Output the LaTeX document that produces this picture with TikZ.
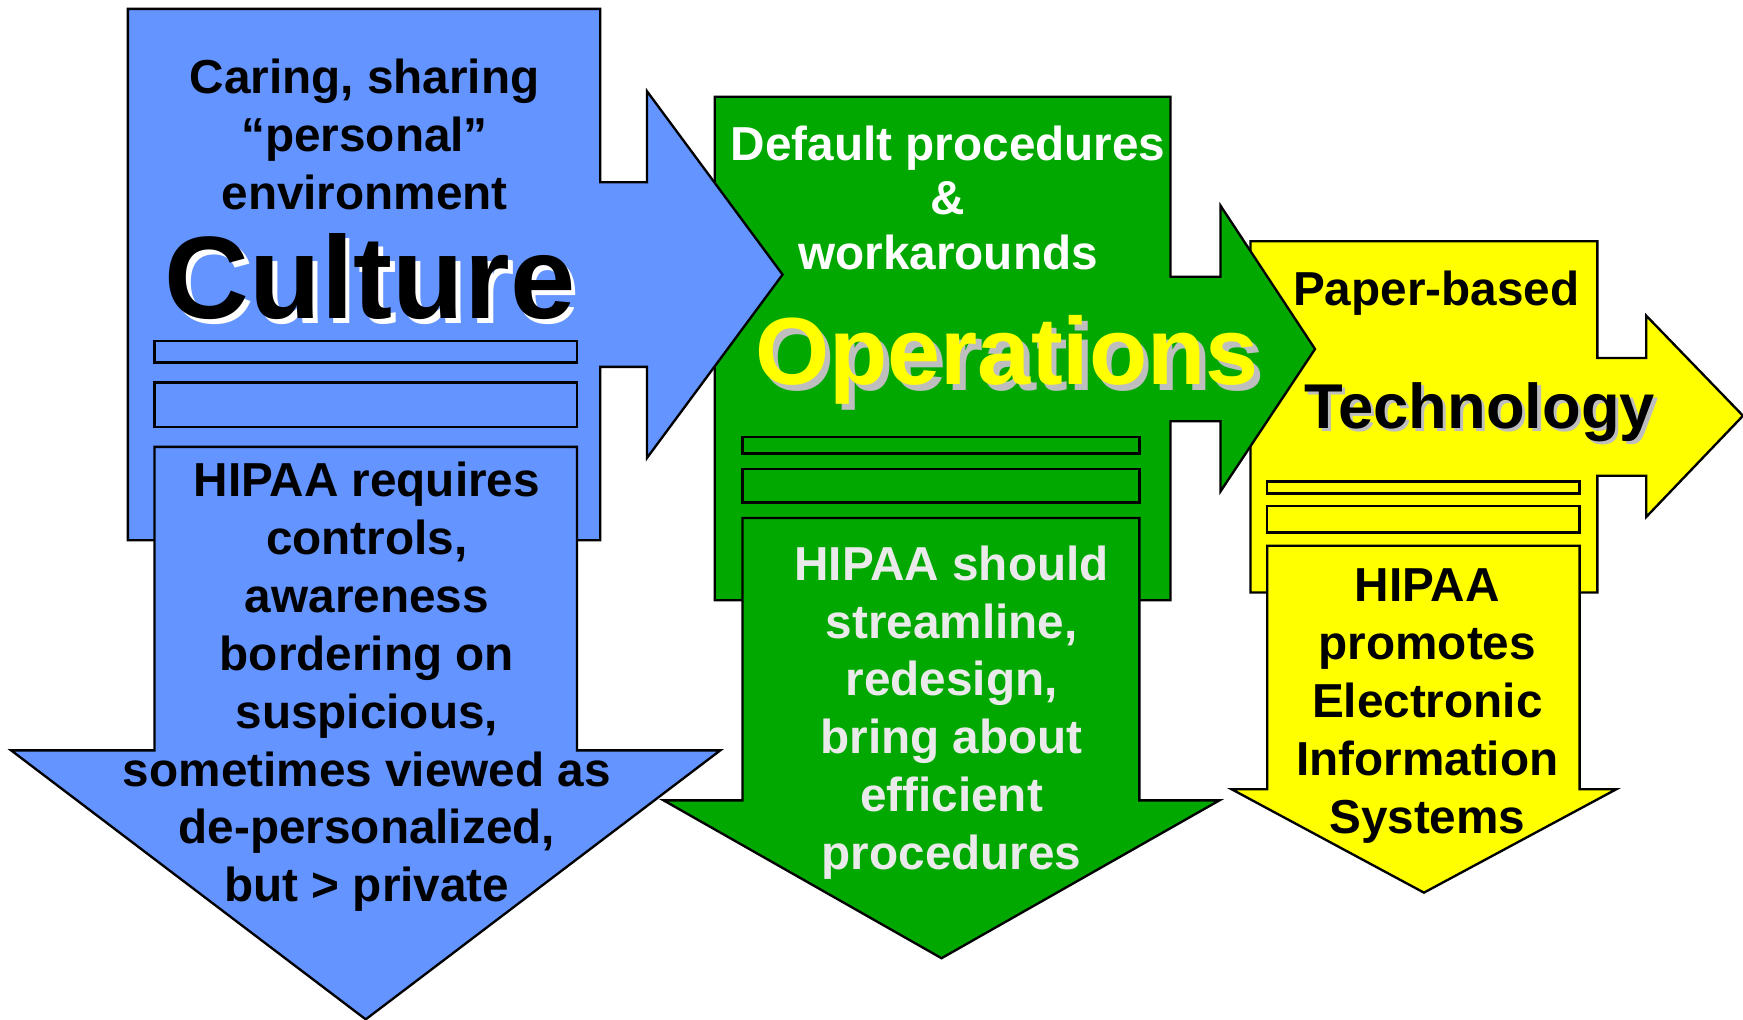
\documentclass[tikz,border=0pt]{standalone}
\usepackage{fontspec}
\setmainfont{Liberation Sans}
\definecolor{cultureblue}{RGB}{99,148,255}
\definecolor{opsgreen}{RGB}{0,168,0}
\definecolor{techyellow}{RGB}{255,255,0}
\definecolor{shadowgray}{RGB}{190,190,190}
\definecolor{paletext}{RGB}{234,234,234}
\tikzstyle{arrowbox} = [draw=black, line width=0.6pt, line join=miter]
\tikzstyle{body} = [align=center, inner sep=0pt, font=\bfseries\fontsize{12.2}{14.8}\selectfont]
\tikzstyle{bodytight} = [align=center, inner sep=0pt, font=\bfseries\fontsize{12.2}{13.9}\selectfont]
\tikzstyle{culturetitle} = [inner sep=0pt, font=\bfseries\fontsize{30}{36}\selectfont]
\tikzstyle{opstitle} = [inner sep=0pt, font=\bfseries\fontsize{24.4}{29}\selectfont]
\tikzstyle{techtitle} = [inner sep=0pt, font=\bfseries\fontsize{16.2}{19}\selectfont]

\begin{document}
\begin{tikzpicture}[x=0.01cm, y=-0.01cm]
\useasboundingbox (0,0) rectangle (1568,917);

\draw [arrowbox, fill=techyellow] (1125,217) -- (1437,217) -- (1437,322) -- (1481,322) -- (1481,284) -- (1568,374) -- (1481,465) -- (1481,428) -- (1437,428) -- (1437,533) -- (1125,533) -- cycle;
\draw [arrowbox, fill=techyellow] (1140,433) rectangle (1421,444);
\draw [arrowbox, fill=techyellow] (1140,455) rectangle (1421,479);
\draw [arrowbox, fill=techyellow] (1140,491) -- (1421,491) -- (1421,710) -- (1454,710) -- (1281,803) -- (1108,710) -- (1140,710) -- cycle;

\draw [arrowbox, fill=opsgreen] (643,87) -- (1053,87) -- (1053,249) -- (1098,249) -- (1098,185) -- (1183,314) -- (1098,442) -- (1098,379) -- (1053,379) -- (1053,540) -- (643,540) -- cycle;
\draw [arrowbox, fill=opsgreen] (668,393) rectangle (1025,408);
\draw [arrowbox, fill=opsgreen] (668,422) rectangle (1025,452);
\draw [arrowbox, fill=opsgreen] (668,466) -- (1025,466) -- (1025,720) -- (1097,720) -- (847,862) -- (597,720) -- (668,720) -- cycle;

\draw [arrowbox, fill=cultureblue] (115,8) -- (540,8) -- (540,164) -- (582,164) -- (582,82) -- (704,247) -- (582,412) -- (582,330) -- (540,330) -- (540,486) -- (115,486) -- cycle;
\draw [arrowbox, fill=cultureblue] (139,307) rectangle (519,326);
\draw [arrowbox, fill=cultureblue] (139,344) rectangle (519,384);
\draw [arrowbox, fill=cultureblue] (139,402) -- (519,402) -- (519,675) -- (648,675) -- (329,917) -- (10,675) -- (139,675) -- cycle;

\node (care) [body] at (328,121) {Caring, sharing\\``personal''\\environment};
\node (culture shadow) [culturetitle, white] at (337,253) {Culture};
\node (culture) [culturetitle] at (333,249) {Culture};
\node (requires) [body] at (330,618) {HIPAA requires\\controls,\\awareness\\bordering on\\suspicious,\\sometimes viewed as\\de-personalized,\\but > private};

\node (defaults) [bodytight, white] at (853,178) {Default procedures\\\&\\workarounds};
\node (ops shadow) [opstitle, shadowgray] at (911,329) {Operations};
\node (ops) [opstitle, techyellow] at (906,324) {Operations};
\node (streamline) [body, paletext] at (856,641) {HIPAA should\\streamline,\\redesign,\\bring about\\efficient\\procedures};

\node (paper) [body] at (1292,264) {Paper-based};
\node (tech shadow) [techtitle, shadowgray] at (1334,374) {Technology};
\node (tech) [techtitle] at (1331,371) {Technology};
\node (promotes) [body] at (1284,635) {HIPAA\\promotes\\Electronic\\Information\\Systems};
\end{tikzpicture}
\end{document}
